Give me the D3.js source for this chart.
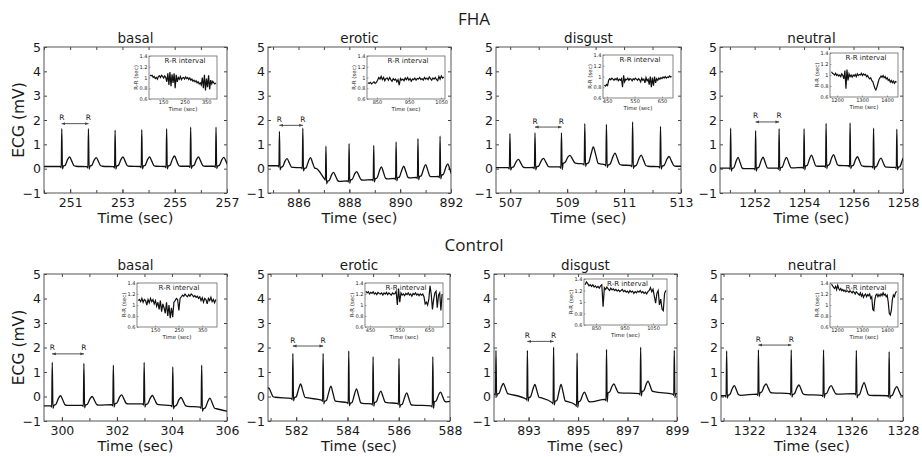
<!DOCTYPE html>
<html><head><meta charset="utf-8">
<script src="https://cdn.jsdelivr.net/npm/d3@7"></script>
<style>
body{margin:0;background:#fff}
svg{display:block}
text{font-family:"DejaVu Sans",Verdana,sans-serif;fill:#1a1a1a}
</style>
</head><body>
<svg id="chart" width="922" height="457"></svg>
<script>
// ---------------- DATA ----------------
const groups = ["FHA", "Control"];
const conditions = ["basal", "erotic", "disgust", "neutral"];
const ecgYTicks = [-1, 0, 1, 2, 3, 4, 5];
const rrYTicks = [0.6, 0.8, 1, 1.2, 1.4];

// FHA basal
const fhaBasalDomain = [250, 257];
const fhaBasalTicks = [251, 253, 255, 257];
const fhaBasalR = [250.68, 251.70, 252.72, 253.74, 254.69, 255.61, 256.58];
const fhaBasalRAmp = [1.64, 1.64, 1.58, 1.6, 1.64, 1.71, 1.71];
const fhaBasalTAmp = [0.48, 0.45, 0.48, 0.48, 0.52, 0.48, 0.46];
const fhaBasalPre = [0.09, 0.08, 0.08, 0.09, 0.09, 0.1, 0.1, 0.1];
const fhaBasalPost = [0.1, 0.1, 0.1, 0.1, 0.1, 0.1, 0.1];
const fhaBasalMark = [0, 1, 1.85];
const fhaBasalRRDomain = [85, 400];
const fhaBasalRRTicks = [150, 250, 350];
const fhaBasalRRSpan = [90, 395];
const fhaBasalRR = [1.05,1.03,1.04,1.0,1.02,0.98,1.0,0.97,1.02,1.03,1.0,1.04,1.02,0.99,1.03,1.0,
 0.92,1.08,0.86,1.1,0.84,1.06,0.9,1.08,0.8,1.05,0.92,1.0,0.97,1.02,0.96,0.99,
 1.0,0.97,1.01,0.98,1.0,0.96,0.99,0.95,0.97,0.93,0.95,0.92,0.94,0.9,0.92,0.88,
 0.9,0.86,1.0,0.8,1.05,0.76,0.98,0.82,1.04,0.78,0.95,0.88,0.93,0.9,0.88,0.9];

// FHA erotic
const fhaEroticDomain = [884.8, 892];
const fhaEroticTicks = [886, 888, 890, 892];
const fhaEroticR = [885.25, 886.17, 887.08, 887.99, 888.96, 889.84, 890.70, 891.57];
const fhaEroticRAmp = [1.53, 1.67, 0.93, 1.03, 0.96, 1.1, 1.23, 1.34];
const fhaEroticTAmp = [0.41, 0.45, -0.15, -0.12, 0.07, 0.1, 0.17, 0.2];
const fhaEroticPre = [0.12, 0.04, -0.42, -0.5, -0.45, -0.4, -0.36, -0.32, -0.25];
const fhaEroticPost = [0.05, 0.0, -0.52, -0.47, -0.42, -0.38, -0.33, -0.27];
const fhaEroticMark = [0, 1, 1.78];
const fhaEroticRRDomain = [819, 1062];
const fhaEroticRRTicks = [850, 950, 1050];
const fhaEroticRRSpan = [822, 1058];
const fhaEroticRR = [0.9,0.89,0.91,0.88,0.9,0.92,0.89,0.91,0.95,1.0,0.97,1.02,0.96,1.0,0.94,0.98,
 0.99,0.95,1.0,0.96,0.93,0.98,0.95,0.97,0.92,0.96,0.86,0.98,0.95,0.97,0.94,0.99,
 0.96,1.0,0.95,0.98,0.93,0.97,0.96,0.99,0.95,0.98,0.97,1.0,0.96,0.98,0.95,1.0,
 0.97,0.99,0.96,1.01,0.98,0.95,0.99,0.97,1.0,0.96,0.94,1.02,0.97,1.03,0.99,1.01];

// FHA disgust
const fhaDisgustDomain = [506.5, 513];
const fhaDisgustTicks = [507, 509, 511, 513];
const fhaDisgustR = [506.99, 507.87, 508.80, 509.62, 510.38, 511.30, 512.28];
const fhaDisgustRAmp = [1.44, 1.47, 1.47, 1.85, 1.82, 1.92, 1.74];
const fhaDisgustTAmp = [0.38, 0.42, 0.55, 0.89, 0.64, 0.56, 0.5];
const fhaDisgustPre = [0.04, 0.05, 0.07, 0.2, 0.17, 0.13, 0.08, 0.1];
const fhaDisgustPost = [0.04, 0.07, 0.22, 0.2, 0.15, 0.1, 0.1];
const fhaDisgustMark = [1, 2, 1.71];
const fhaDisgustRRDomain = [435, 690];
const fhaDisgustRRTicks = [450, 550, 650];
const fhaDisgustRRSpan = [440, 685];
const fhaDisgustRR = [0.84,0.82,0.85,0.83,0.93,0.96,0.94,0.97,0.95,0.93,0.96,0.94,0.97,0.92,0.95,0.93,
 0.96,0.8,1.02,0.9,0.95,0.94,0.97,0.93,0.96,0.95,0.92,0.96,0.94,0.97,0.95,0.93,
 0.96,0.94,0.9,0.97,0.93,0.95,0.88,0.98,0.92,0.95,0.85,1.0,0.8,0.98,0.83,1.0,
 0.88,0.96,0.93,0.97,0.95,0.98,0.96,0.99,0.97,1.0,0.97,0.99,0.98,1.01,0.99,1.0];

// FHA neutral
const fhaNeutralDomain = [1250.6, 1258];
const fhaNeutralTicks = [1252, 1254, 1256, 1258];
const fhaNeutralR = [1251.03, 1252.04, 1252.99, 1254.0, 1254.89, 1255.86, 1256.81, 1257.75];
const fhaNeutralRAmp = [1.67, 1.56, 1.64, 1.64, 1.86, 1.88, 1.67, 1.62];
const fhaNeutralTAmp = [0.46, 0.47, 0.46, 0.56, 0.58, 0.49, 0.43, 0.49];
const fhaNeutralPre = [0.02, 0.0, 0.02, 0.05, 0.1, 0.12, 0.08, 0.05, 0.05];
const fhaNeutralPost = [0.0, 0.02, 0.03, 0.1, 0.13, 0.1, 0.06, 0.05];
const fhaNeutralMark = [1, 2, 1.92];
const fhaNeutralRRDomain = [1172, 1444];
const fhaNeutralRRTicks = [1200, 1300, 1400];
const fhaNeutralRRSpan = [1178, 1438];
const fhaNeutralRR = [1.06,1.03,1.02,1.0,1.03,0.99,1.01,0.98,1.0,0.97,1.02,0.99,0.93,1.08,0.75,1.1,
 0.9,1.02,0.97,1.0,0.96,1.0,0.98,1.01,0.97,1.02,0.99,1.01,1.0,1.03,0.99,1.02,
 1.0,1.01,0.97,0.99,0.95,0.93,0.95,0.9,0.88,0.82,0.76,0.73,0.78,0.85,0.92,0.95,
 0.98,0.96,0.99,0.95,0.97,0.93,0.95,0.9,0.92,0.87,0.9,0.86,0.89,0.85,0.88,0.87];

// Control basal
const ctrlBasalDomain = [299.35, 306];
const ctrlBasalTicks = [300, 302, 304, 306];
const ctrlBasalR = [299.65, 300.80, 301.87, 302.99, 304.03, 305.08];
const ctrlBasalRAmp = [1.39, 1.35, 1.28, 1.39, 1.21, 1.28];
const ctrlBasalTAmp = [0.03, 0.0, 0.07, 0.04, -0.04, -0.07];
const ctrlBasalPre = [-0.38, -0.36, -0.33, -0.3, -0.37, -0.43, -0.6];
const ctrlBasalPost = [-0.36, -0.35, -0.3, -0.33, -0.4, -0.5];
const ctrlBasalMark = [0, 1, 1.74];
const ctrlBasalRRDomain = [73, 413];
const ctrlBasalRRTicks = [150, 250, 350];
const ctrlBasalRRSpan = [78, 408];
const ctrlBasalRR = [1.08,1.1,1.06,1.12,1.05,1.1,1.08,1.0,1.1,1.04,1.12,1.06,1.1,1.02,1.08,0.98,
 1.05,0.92,1.08,0.88,1.02,0.95,0.85,1.05,0.8,1.0,0.76,0.95,0.78,1.05,1.08,1.12,
 1.1,0.9,1.12,1.15,1.18,1.16,1.2,1.17,1.15,1.19,1.16,1.2,1.18,1.15,1.17,1.14,
 1.16,1.12,1.15,1.08,1.13,1.05,1.12,1.1,1.02,1.12,1.08,1.14,1.06,1.1,1.04,1.1];

// Control erotic
const ctrlEroticDomain = [580.9, 588];
const ctrlEroticTicks = [582, 584, 586, 588];
const ctrlEroticR = [580.63, 581.87, 583.05, 584.05, 585.0, 586.01, 587.33];
const ctrlEroticRAmp = [1.7, 1.76, 1.76, 1.86, 1.63, 1.56, 1.63];
const ctrlEroticTAmp = [0.35, 0.51, 0.42, 0.31, 0.22, 0.15, 0.18];
const ctrlEroticPre = [-0.05, -0.08, -0.15, -0.25, -0.3, -0.28, -0.38, -0.2];
const ctrlEroticPost = [-0.03, -0.05, -0.2, -0.28, -0.25, -0.35, -0.22];
const ctrlEroticMark = [1, 2, 2.06];
const ctrlEroticRRDomain = [433, 697];
const ctrlEroticRRTicks = [450, 550, 650];
const ctrlEroticRRSpan = [436, 694];
const ctrlEroticRR = [1.25,1.22,1.24,1.2,1.23,1.21,1.24,1.2,1.22,1.19,1.23,1.21,1.2,1.22,1.18,1.22,
 1.2,1.23,1.19,1.22,1.2,1.18,1.22,1.2,1.21,1.25,1.0,1.3,1.05,1.22,1.18,1.2,
 1.17,1.21,1.19,1.22,1.18,1.2,1.16,1.21,1.19,1.22,1.18,1.2,1.17,1.2,1.18,1.2,
 1.15,1.02,1.05,1.0,1.1,1.35,1.2,0.92,1.1,1.22,1.25,0.95,1.18,1.22,0.9,1.2];

// Control disgust
const ctrlDisgustDomain = [891.6, 899];
const ctrlDisgustTicks = [893, 895, 897, 899];
const ctrlDisgustR = [891.68, 892.95, 894.01, 894.96, 896.15, 897.53, 898.89];
const ctrlDisgustRAmp = [1.88, 1.88, 2.01, 1.78, 1.92, 2.01, 1.88];
const ctrlDisgustTAmp = [0.53, 0.49, 0.49, 0.18, 0.51, 0.63, 0.3];
const ctrlDisgustPre = [0.1, -0.1, -0.25, -0.35, -0.12, 0.12, 0.1, 0.1];
const ctrlDisgustPost = [0.1, -0.05, -0.2, -0.22, 0.15, 0.2, 0.1];
const ctrlDisgustMark = [1, 2, 2.25];
const ctrlDisgustRRDomain = [808, 1099];
const ctrlDisgustRRTicks = [850, 950, 1050];
const ctrlDisgustRRSpan = [812, 1095];
const ctrlDisgustRR = [1.3,1.35,1.32,1.28,1.3,1.27,1.3,1.26,1.28,1.25,1.27,1.24,1.28,1.3,0.92,1.25,
 1.22,1.26,1.23,1.2,1.24,1.21,1.23,1.2,1.22,1.19,1.21,1.18,1.2,1.22,1.18,1.2,
 1.17,1.19,1.16,1.2,1.17,1.19,1.15,1.18,1.16,1.19,1.17,1.2,1.16,1.18,1.15,1.17,
 1.14,1.18,1.2,1.25,1.18,1.22,1.1,0.98,1.15,1.2,0.95,1.05,0.88,0.85,1.15,1.2];

// Control neutral
const ctrlNeutralDomain = [1320.9, 1328];
const ctrlNeutralTicks = [1322, 1324, 1326, 1328];
const ctrlNeutralR = [1321.12, 1322.36, 1323.64, 1324.9, 1326.18, 1327.46];
const ctrlNeutralRAmp = [1.86, 1.9, 1.9, 1.9, 1.88, 1.83];
const ctrlNeutralTAmp = [0.44, 0.51, 0.47, 0.44, 0.57, 0.4];
const ctrlNeutralPre = [0.03, 0.1, 0.12, 0.05, 0.12, 0.03, 0.0];
const ctrlNeutralPost = [0.05, 0.15, 0.08, 0.1, 0.05, 0.02];
const ctrlNeutralMark = [1, 2, 2.1];
const ctrlNeutralRRDomain = [1172, 1444];
const ctrlNeutralRRTicks = [1200, 1300, 1400];
const ctrlNeutralRRSpan = [1178, 1438];
const ctrlNeutralRR = [1.38,1.35,1.32,1.3,1.34,1.28,1.36,1.3,1.27,1.3,1.26,1.28,1.25,1.27,1.24,1.26,
 1.25,1.23,1.26,1.24,1.22,1.25,1.23,1.2,1.24,1.22,1.2,1.18,1.22,1.16,1.2,1.14,
 1.18,1.2,1.15,1.19,1.17,1.2,1.12,1.15,0.92,0.9,1.1,1.18,1.2,1.15,1.19,1.16,
 1.2,1.17,1.22,1.18,1.2,1.15,1.18,1.05,0.85,0.82,0.9,1.1,1.18,1.15,1.22,1.25];

// table assembled from the named arrays
const panels = [
 {g:0,c:0,dom:fhaBasalDomain,ticks:fhaBasalTicks,r:fhaBasalR,ra:fhaBasalRAmp,ta:fhaBasalTAmp,pre:fhaBasalPre,post:fhaBasalPost,mark:fhaBasalMark,rrDom:fhaBasalRRDomain,rrTicks:fhaBasalRRTicks,rrSpan:fhaBasalRRSpan,rr:fhaBasalRR},
 {g:0,c:1,dom:fhaEroticDomain,ticks:fhaEroticTicks,r:fhaEroticR,ra:fhaEroticRAmp,ta:fhaEroticTAmp,pre:fhaEroticPre,post:fhaEroticPost,mark:fhaEroticMark,rrDom:fhaEroticRRDomain,rrTicks:fhaEroticRRTicks,rrSpan:fhaEroticRRSpan,rr:fhaEroticRR},
 {g:0,c:2,dom:fhaDisgustDomain,ticks:fhaDisgustTicks,r:fhaDisgustR,ra:fhaDisgustRAmp,ta:fhaDisgustTAmp,pre:fhaDisgustPre,post:fhaDisgustPost,mark:fhaDisgustMark,rrDom:fhaDisgustRRDomain,rrTicks:fhaDisgustRRTicks,rrSpan:fhaDisgustRRSpan,rr:fhaDisgustRR},
 {g:0,c:3,dom:fhaNeutralDomain,ticks:fhaNeutralTicks,r:fhaNeutralR,ra:fhaNeutralRAmp,ta:fhaNeutralTAmp,pre:fhaNeutralPre,post:fhaNeutralPost,mark:fhaNeutralMark,rrDom:fhaNeutralRRDomain,rrTicks:fhaNeutralRRTicks,rrSpan:fhaNeutralRRSpan,rr:fhaNeutralRR},
 {g:1,c:0,dom:ctrlBasalDomain,ticks:ctrlBasalTicks,r:ctrlBasalR,ra:ctrlBasalRAmp,ta:ctrlBasalTAmp,pre:ctrlBasalPre,post:ctrlBasalPost,mark:ctrlBasalMark,rrDom:ctrlBasalRRDomain,rrTicks:ctrlBasalRRTicks,rrSpan:ctrlBasalRRSpan,rr:ctrlBasalRR},
 {g:1,c:1,dom:ctrlEroticDomain,ticks:ctrlEroticTicks,r:ctrlEroticR,ra:ctrlEroticRAmp,ta:ctrlEroticTAmp,pre:ctrlEroticPre,post:ctrlEroticPost,mark:ctrlEroticMark,rrDom:ctrlEroticRRDomain,rrTicks:ctrlEroticRRTicks,rrSpan:ctrlEroticRRSpan,rr:ctrlEroticRR},
 {g:1,c:2,dom:ctrlDisgustDomain,ticks:ctrlDisgustTicks,r:ctrlDisgustR,ra:ctrlDisgustRAmp,ta:ctrlDisgustTAmp,pre:ctrlDisgustPre,post:ctrlDisgustPost,mark:ctrlDisgustMark,rrDom:ctrlDisgustRRDomain,rrTicks:ctrlDisgustRRTicks,rrSpan:ctrlDisgustRRSpan,rr:ctrlDisgustRR},
 {g:1,c:3,dom:ctrlNeutralDomain,ticks:ctrlNeutralTicks,r:ctrlNeutralR,ra:ctrlNeutralRAmp,ta:ctrlNeutralTAmp,pre:ctrlNeutralPre,post:ctrlNeutralPost,mark:ctrlNeutralMark,rrDom:ctrlNeutralRRDomain,rrTicks:ctrlNeutralRRTicks,rrSpan:ctrlNeutralRRSpan,rr:ctrlNeutralRR}
];

// ---------------- LAYOUT ----------------
const plotBoxes = [
 {x0:44,x1:227,y0:47,y1:193},{x0:268,x1:451,y0:47,y1:193},{x0:496,x1:681,y0:47,y1:193},{x0:720,x1:903,y0:47,y1:193},
 {x0:44,x1:227,y0:274,y1:421},{x0:268,x1:450,y0:274,y1:421},{x0:494,x1:677,y0:274,y1:421},{x0:721,x1:903,y0:274,y1:421}
];
const insetBoxes = [
 {x:149,y:56,w:68,h:43},{x:367,y:56,w:78,h:43},{x:603,y:55,w:70,h:43},{x:830,y:53,w:68,h:44},
 {x:137,y:283,w:80,h:44},{x:365,y:283,w:78,h:44},{x:584,y:279,w:83,h:46},{x:830,y:283,w:68,h:44}
];
const groupTitleY = [25, 251];
const T_OFF = 0.3;

const svg = d3.select("#chart");
const defs = svg.append("defs");
defs.append("marker").attr("id","arr").attr("viewBox","0 0 6 6").attr("refX",5.5).attr("refY",3)
  .attr("markerWidth",4).attr("markerHeight",4).attr("orient","auto-start-reverse")
  .append("path").attr("d","M0,0.8L6,3L0,5.2Z").attr("fill","#444");

groups.forEach((gname, gi) => {
  svg.append("text").attr("x", 474).attr("y", groupTitleY[gi]).attr("text-anchor","middle")
    .style("font-family","'Open Sans',sans-serif").style("font-size","17px").text(gname);
});

function ecgPoints(p) {
  const pts = [];
  const n = p.r.length;
  pts.push([Math.min(p.dom[0], p.r[0] - 0.1), p.pre[0]]);
  for (let i = 0; i < n; i++) {
    const t = p.r[i], b0 = p.pre[i], b1 = p.post[i];
    pts.push([t-0.06,b0],[t-0.02,b0-0.05],[t,p.ra[i]],[t+0.025,Math.min(b0,b1)-0.1],[t+0.06,b1],
      [t+T_OFF-0.17,b1+0.04],[t+T_OFF-0.07,(p.ta[i]+b1)/2+0.1],[t+T_OFF,p.ta[i]],[t+T_OFF+0.09,(p.ta[i]+b1)/2],[t+T_OFF+0.17,b1+0.02],[t+T_OFF+0.24,b1]);
  }
  pts.push([Math.max(p.dom[1], p.r[n-1] + T_OFF + 0.3), p.pre[n]]);
  return pts;
}

panels.forEach((p, k) => {
  const b = plotBoxes[k];
  const g = svg.append("g");
  const x = d3.scaleLinear().domain(p.dom).range([b.x0, b.x1]);
  const y = d3.scaleLinear().domain([-1, 5]).range([b.y1, b.y0]);
  const minor = d3.range(Math.ceil(p.dom[0]), Math.floor(p.dom[1]) + 1);

  defs.append("clipPath").attr("id","clip"+k).append("rect")
    .attr("x",b.x0).attr("y",b.y0).attr("width",b.x1-b.x0).attr("height",b.y1-b.y0);

  const ax = g.append("g").attr("transform",`translate(0,${b.y1})`)
    .call(d3.axisBottom(x).tickValues(p.ticks).tickFormat(d3.format("d")).tickSize(-4).tickPadding(5));
  ax.selectAll("text").style("font-size","12.5px");
  g.append("g").attr("transform",`translate(0,${b.y1})`)
    .call(d3.axisBottom(x).tickValues(minor).tickFormat("").tickSize(-3));
  g.append("g").attr("transform",`translate(0,${b.y0})`)
    .call(d3.axisTop(x).tickValues(minor).tickFormat("").tickSize(-3));
  const ay = g.append("g").attr("transform",`translate(${b.x0},0)`)
    .call(d3.axisLeft(y).tickValues(ecgYTicks).tickFormat(d3.format("d")).tickSize(-3).tickPadding(3));
  ay.selectAll("text").style("font-size","12.5px");
  g.append("g").attr("transform",`translate(${b.x1},0)`)
    .call(d3.axisRight(y).tickValues(ecgYTicks).tickFormat("").tickSize(-3));
  g.selectAll(".domain").remove();
  g.selectAll(".tick line").attr("stroke","#444");
  g.append("rect").attr("x",b.x0).attr("y",b.y0).attr("width",b.x1-b.x0).attr("height",b.y1-b.y0)
    .attr("fill","none").attr("stroke","#555").attr("stroke-width",1);

  const line = d3.line().x(d => x(d[0])).y(d => y(d[1])).curve(d3.curveMonotoneX);
  g.append("path").attr("d", line(ecgPoints(p))).attr("clip-path",`url(#clip${k})`)
    .attr("fill","none").attr("stroke","#111").attr("stroke-width",1.3).attr("stroke-linejoin","round");

  const xa = x(p.r[p.mark[0]]), xb = x(p.r[p.mark[1]]), ym = y(p.mark[2]);
  g.append("line").attr("x1",xa).attr("x2",xb).attr("y1",ym).attr("y2",ym)
    .attr("stroke","#555").attr("stroke-width",1)
    .attr("marker-start","url(#arr)").attr("marker-end","url(#arr)");
  [xa, xb].forEach(xx => g.append("text").attr("x",xx).attr("y",ym-3.5).attr("text-anchor","middle")
    .style("font-size","7.5px").text("R"));

  g.append("text").attr("x",(b.x0+b.x1)/2).attr("y",b.y0-4).attr("text-anchor","middle")
    .style("font-size","13.5px").text(conditions[p.c]);
  g.append("text").attr("x",(b.x0+b.x1)/2).attr("y",b.y1+30).attr("text-anchor","middle")
    .style("font-size","14.5px").text("Time (sec)");
  if (p.c === 0) {
    g.append("text").attr("transform",`translate(${b.x0-20},${(b.y0+b.y1)/2}) rotate(-90)`)
      .attr("text-anchor","middle").style("font-size","15.5px").text("ECG (mV)");
  }

  // inset
  const ib = insetBoxes[k];
  const gi = svg.append("g");
  const ix = d3.scaleLinear().domain(p.rrDom).range([ib.x, ib.x + ib.w]);
  const iy = d3.scaleLinear().domain([0.6, 1.4]).range([ib.y + ib.h, ib.y]);
  gi.append("rect").attr("x",ib.x).attr("y",ib.y).attr("width",ib.w).attr("height",ib.h)
    .attr("fill","#fff").attr("stroke","#666").attr("stroke-width",0.8);
  const ixa = gi.append("g").attr("transform",`translate(0,${ib.y+ib.h})`)
    .call(d3.axisBottom(ix).tickValues(p.rrTicks).tickFormat(d3.format("d")).tickSize(-1.5).tickPadding(1.2));
  ixa.selectAll("text").style("font-size","5px");
  const iya = gi.append("g").attr("transform",`translate(${ib.x},0)`)
    .call(d3.axisLeft(iy).tickValues(rrYTicks).tickFormat(d => d3.format("~g")(d)).tickSize(-1.5).tickPadding(1.5));
  iya.selectAll("text").style("font-size","5px");
  gi.selectAll(".domain").remove();
  gi.selectAll(".tick line").attr("stroke","#666").attr("stroke-width",0.6);
  const times = p.rr.map((v, i) => p.rrSpan[0] + i * (p.rrSpan[1] - p.rrSpan[0]) / (p.rr.length - 1));
  const iline = d3.line().x((d, i) => ix(times[i])).y(d => iy(d));
  gi.append("path").attr("d", iline(p.rr)).attr("fill","none").attr("stroke","#111").attr("stroke-width",1.2);
  gi.append("text").attr("x",ib.x+ib.w/2+2).attr("y",ib.y+6.5).attr("text-anchor","middle")
    .style("font-size","7px").text("R-R interval");
  gi.append("text").attr("x",ib.x+ib.w/2).attr("y",ib.y+ib.h+12).attr("text-anchor","middle")
    .style("font-size","5.5px").text("Time (sec)");
  gi.append("text").attr("transform",`translate(${ib.x-11},${ib.y+ib.h/2}) rotate(-90)`)
    .attr("text-anchor","middle").style("font-size","5.5px").text("R-R (sec)");
});
</script>
</body></html>
